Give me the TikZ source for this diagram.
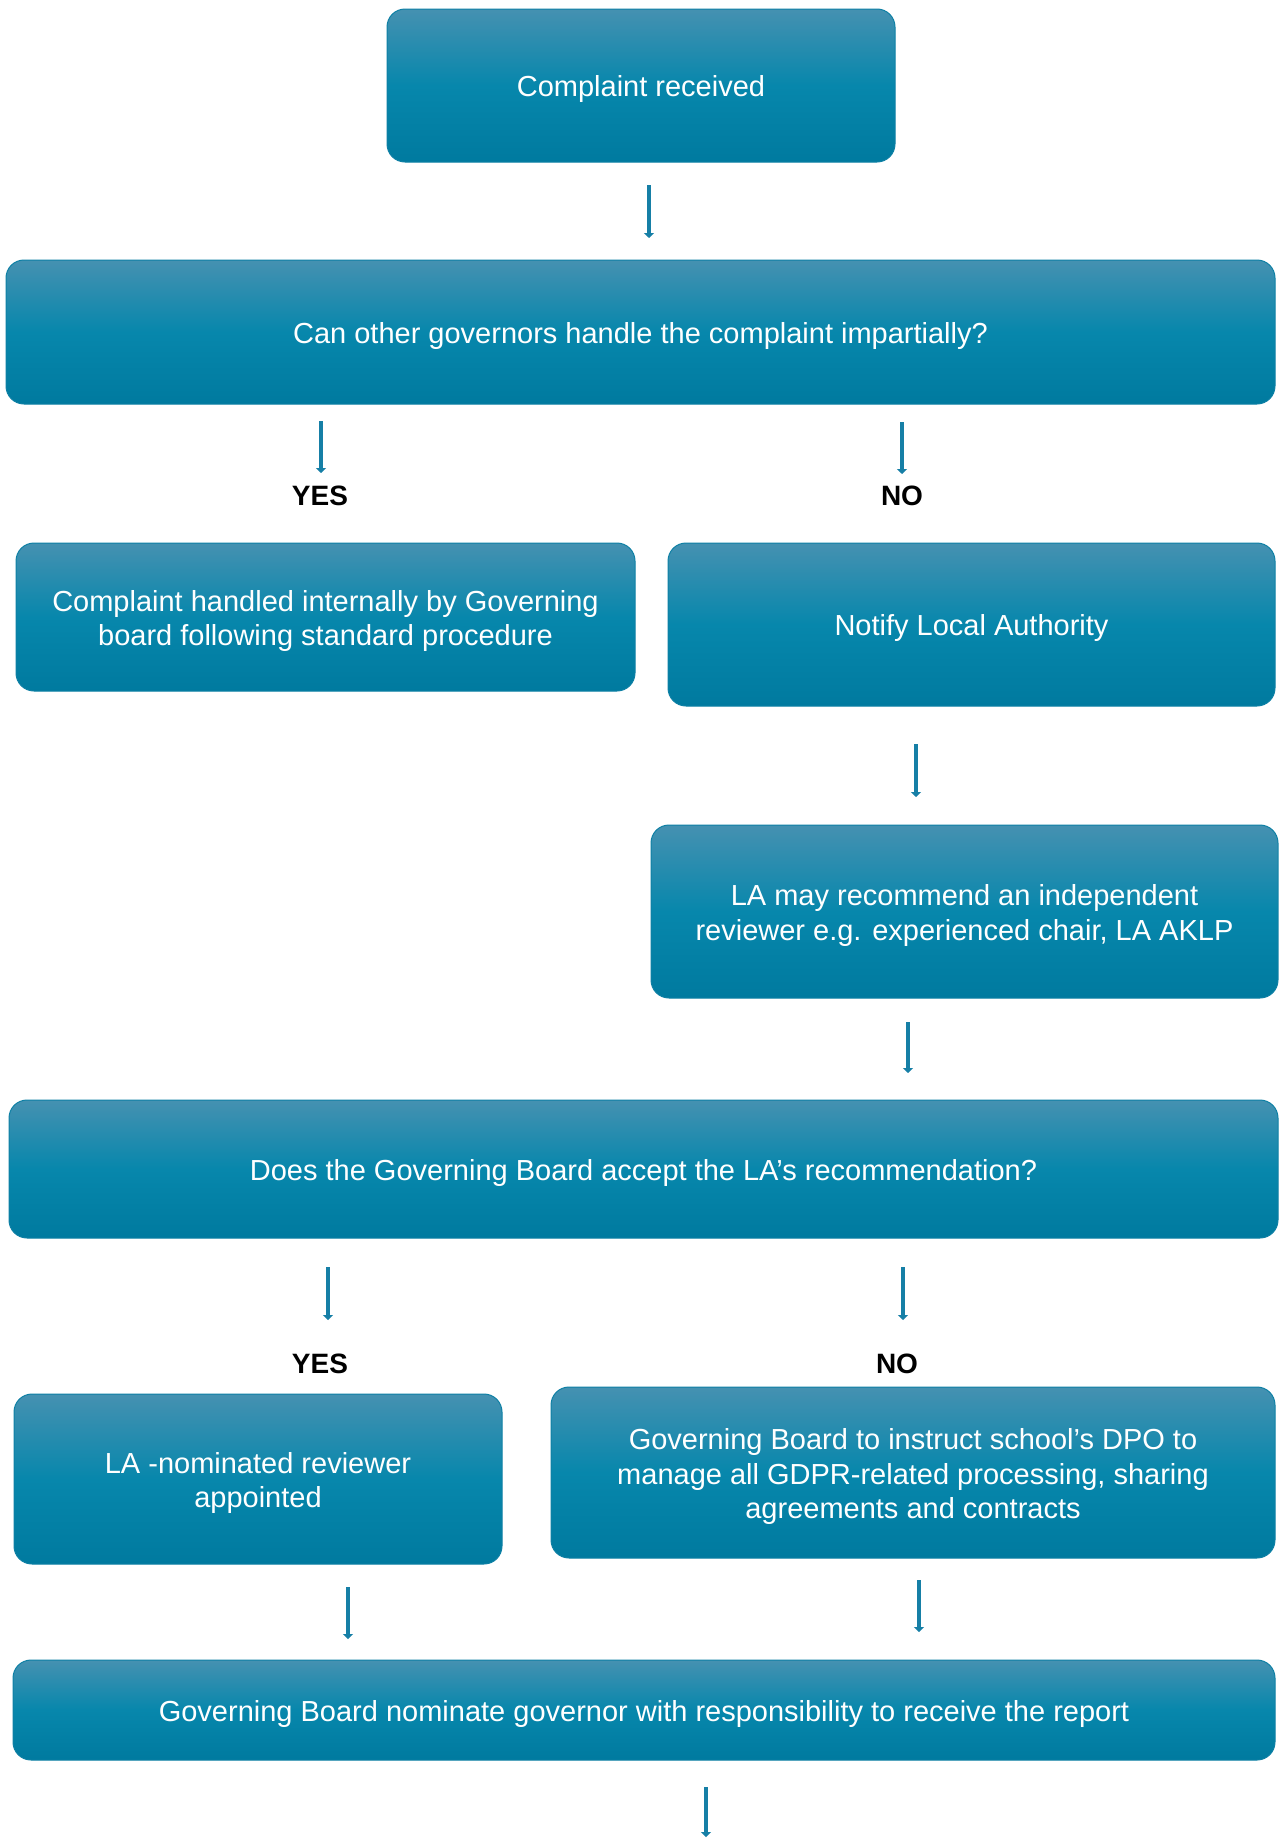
\documentclass[tikz,border=0pt]{standalone}
\usepackage{fontspec}
\setmainfont{Liberation Sans}
\usetikzlibrary{arrows.meta}
\definecolor{boxtop}{HTML}{4591B1}
\definecolor{boxmid}{HTML}{0787AC}
\definecolor{boxbot}{HTML}{007A9F}
\definecolor{boxedge}{HTML}{0E80A5}
\definecolor{arrcol}{HTML}{167FA6}
\newcommand{\lowstrut}{\rule{0pt}{29pt}}
\tikzset{
  box/.style={rounded corners=18pt, draw=boxedge, line width=1pt,
    top color=boxtop, bottom color=boxbot, middle color=boxmid,
    text=white, align=center, inner sep=0pt},
  arr/.style={draw=arrcol, line width=4pt, -{Triangle[width=10pt,length=5pt]}},
  lab/.style={font=\fontsize{28}{32}\selectfont\bfseries, text=black, inner sep=0pt}
}
\begin{document}
\begin{tikzpicture}[x=1pt,y=-1pt, font=\fontsize{29}{34.5}\selectfont]
\useasboundingbox[fill=white] (0,0) rectangle (1280,1839);

\node[box, minimum width=508, minimum height=153] (b1) at (641,85.5) {\lowstrut Complaint received};
\node[box, minimum width=1269, minimum height=144] (b2) at (640.5,332) {\lowstrut Can other governors handle the complaint impartially?};
\node[box, minimum width=619, minimum height=148] (b3) at (325.5,617) {\lowstrut Complaint handled internally by Governing\\board following standard procedure};
\node[box, minimum width=607, minimum height=163] (b4) at (971.5,624.5) {\lowstrut Notify Local Authority};
\node[box, minimum width=627, minimum height=173] (b5) at (964.5,911.5) {\lowstrut LA may recommend an independent\\reviewer e.g. experienced chair, LA AKLP};
\node[box, minimum width=1269, minimum height=138] (b6) at (643.5,1169) {\lowstrut Does the Governing Board accept the LA’s recommendation?};
\node[box, minimum width=488, minimum height=170] (b7) at (258,1479) {\lowstrut LA -nominated reviewer\\appointed};
\node[box, minimum width=724, minimum height=171] (b8) at (913,1472.5) {\lowstrut Governing Board to instruct school’s DPO to\\manage all GDPR-related processing, sharing\\agreements and contracts};
\node[box, minimum width=1262, minimum height=100] (b9) at (644,1710) {\lowstrut Governing Board nominate governor with responsibility to receive the report};

\node[lab] (yes1) at (320,496) {YES};
\node[lab] (no1) at (902,496) {NO};
\node[lab] (yes2) at (320,1364) {YES};
\node[lab] (no2) at (897,1364) {NO};

\coordinate (a1s) at (649,185);  \coordinate (a1e) at (649,238);
\coordinate (a2s) at (321,421);  \coordinate (a2e) at (321,473);
\coordinate (a3s) at (902,422);  \coordinate (a3e) at (902,474);
\coordinate (a4s) at (916,744);  \coordinate (a4e) at (916,797);
\coordinate (a5s) at (908,1022); \coordinate (a5e) at (908,1073);
\coordinate (a6s) at (328,1267); \coordinate (a6e) at (328,1320);
\coordinate (a7s) at (903,1267); \coordinate (a7e) at (903,1320);
\coordinate (a8s) at (348,1587); \coordinate (a8e) at (348,1639);
\coordinate (a9s) at (919,1580); \coordinate (a9e) at (919,1632);
\coordinate (a10s) at (706,1787); \coordinate (a10e) at (706,1837);

\foreach \i in {1,...,10} { \draw[arr] (a\i s) -- (a\i e); }
\end{tikzpicture}
\end{document}
